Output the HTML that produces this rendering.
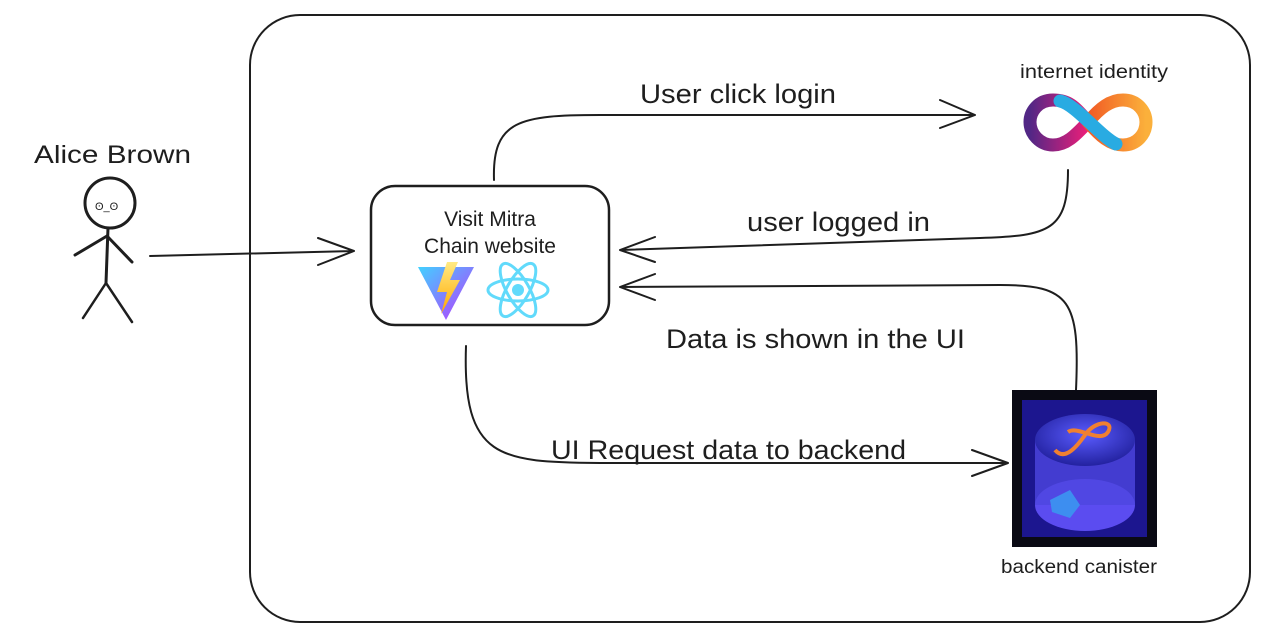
<!DOCTYPE html>
<html><head><meta charset="utf-8"><style>
html,body{margin:0;padding:0;background:#fff;}
svg{display:block}
text{font-family:"Liberation Sans","DejaVu Sans",sans-serif;fill:#1e1e1e}
</style></head><body>
<svg width="1280" height="630" viewBox="0 0 1280 630" xmlns="http://www.w3.org/2000/svg">
<defs>
<linearGradient id="vg" x1="0" y1="0" x2="1" y2="1"><stop offset="0" stop-color="#41d1ff"/><stop offset="1" stop-color="#bd34fe"/></linearGradient>
<linearGradient id="bolt" x1="0" y1="0" x2="0" y2="1"><stop offset="0" stop-color="#ffea83"/><stop offset="1" stop-color="#ffa800"/></linearGradient>
<linearGradient id="inf1" x1="0" y1="0" x2="1" y2="0"><stop offset="0" stop-color="#522785"/><stop offset="1" stop-color="#ed1e79"/></linearGradient>
<linearGradient id="inf2" x1="0" y1="0" x2="1" y2="0"><stop offset="0" stop-color="#f15a24"/><stop offset="1" stop-color="#fbb03b"/></linearGradient>
<radialGradient id="cyl" cx="0.5" cy="0.4" r="0.7"><stop offset="0" stop-color="#5a5cff"/><stop offset="1" stop-color="#1a1890"/></radialGradient>
</defs>
<g fill="none" stroke="#1e1e1e" stroke-width="2" stroke-linecap="round" stroke-linejoin="round">
<rect x="250" y="15" width="1000" height="607" rx="50"/>
<rect x="371" y="186" width="238" height="139" rx="24" stroke-width="2.5"/>
<circle cx="110" cy="203" r="25" stroke-width="3"/>
<path d="M108 228 L106 283" stroke-width="3"/>
<path d="M107 236 L75 255 M107 236 L132 262" stroke-width="3"/>
<path d="M106 283 L83 318 M106 283 L132 322" stroke-width="2.5"/>
<path d="M150 256 L354 251 M318 238 L354 251 L318 265"/>
<path d="M494 180 C492 120 520 115 600 115 L975 115 M940 100 L975 115 L940 128"/>
<path d="M1068 170 C1068 230 1050 236 980 238 L620 250 M655 237 L620 250 L655 262"/>
<path d="M1076 390 C1080 300 1070 285 1000 285 L620 287 M655 274 L620 287 L655 300"/>
<path d="M466 346 C462 460 500 462 600 463 L1008 463 M972 450 L1008 463 L972 476"/>
</g>
<text x="95" y="210" font-size="11">ʘ_ʘ</text>
<text x="34" y="163" font-size="25" textLength="157" lengthAdjust="spacingAndGlyphs">Alice Brown</text>
<text x="490" y="226" font-size="21" text-anchor="middle">Visit Mitra</text>
<text x="490" y="253" font-size="21" text-anchor="middle">Chain website</text>
<path d="M418 267 L474 267 L446 320 Z" fill="url(#vg)"/>
<path d="M447 262 L437 292 L447 292 L441 314 L460 280 L450 280 L458 262 Z" fill="url(#bolt)"/>
<g fill="none" stroke="#61dafb" stroke-width="3" transform="translate(518 290)">
<ellipse rx="30" ry="11"/><ellipse rx="30" ry="11" transform="rotate(60)"/><ellipse rx="30" ry="11" transform="rotate(-60)"/>
</g><circle cx="518" cy="290" r="6" fill="#61dafb"/>
<text x="640" y="103" font-size="27" textLength="196" lengthAdjust="spacingAndGlyphs">User click login</text>
<text x="747" y="231" font-size="27" textLength="183" lengthAdjust="spacingAndGlyphs">user logged in</text>
<text x="666" y="348" font-size="27" textLength="299" lengthAdjust="spacingAndGlyphs">Data is shown in the UI</text>
<text x="551" y="459" font-size="27" textLength="355" lengthAdjust="spacingAndGlyphs">UI Request data to backend</text>
<text x="1020" y="78" font-size="19" textLength="148" lengthAdjust="spacingAndGlyphs">internet identity</text>
<g fill="none" stroke-width="13" stroke-linecap="round">
<path d="M1088 122 C1075 106 1068 100 1053 100 C1038 100 1030 112 1030 122 C1030 134 1040 145 1053 145 C1066 145 1075 136 1088 122" stroke="url(#inf1)"/>
<path d="M1088 122 C1100 108 1110 100 1123 100 C1138 100 1146 112 1146 122 C1146 134 1137 145 1123 145 C1110 145 1100 136 1088 122" stroke="url(#inf2)"/>
<path d="M1060 101 C1075 104 1100 136 1116 144" stroke="#29abe2"/>
</g>
<rect x="1012" y="390" width="145" height="157" fill="#0a0a14"/>
<rect x="1022" y="400" width="125" height="137" fill="#1c168f"/>
<ellipse cx="1085" cy="505" rx="50" ry="26" fill="#5b4cf0"/>
<rect x="1035" y="440" width="100" height="65" fill="#4d46e0" opacity="0.8"/>
<ellipse cx="1085" cy="440" rx="50" ry="26" fill="url(#cyl)"/>
<path d="M1055 450 C1065 462 1078 445 1085 435 C1095 420 1115 420 1108 432 C1100 444 1078 425 1068 432" fill="none" stroke="#f08030" stroke-width="4"/>
<path d="M1050 500 L1070 490 L1080 505 L1070 518 L1052 512Z" fill="#3d8ef0"/>
<text x="1001" y="573" font-size="19" textLength="156" lengthAdjust="spacingAndGlyphs">backend canister</text>
</svg>
</body></html>
